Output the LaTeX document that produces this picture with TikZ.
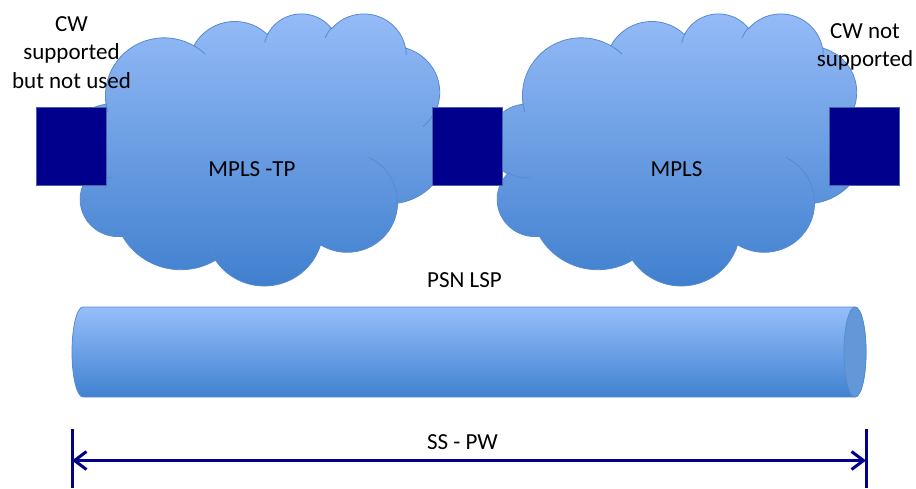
\documentclass[tikz,border=0pt]{standalone}
\usepackage{fontspec}
\setmainfont{Carlito}
\usepackage{xcolor}
\usetikzlibrary{arrows.meta,positioning}

\definecolor{cloudtop}{RGB}{150,188,248}
\definecolor{cloudbot}{RGB}{62,126,205}
\definecolor{cloudedge}{RGB}{88,138,208}
\definecolor{tubetop}{RGB}{150,190,250}
\definecolor{tubebot}{RGB}{64,130,208}
\definecolor{tubeface}{RGB}{98,152,216}
\definecolor{pwnavy}{RGB}{0,0,140}
\definecolor{boxedge}{RGB}{70,100,170}

\tikzset{
  cloudbody/.style={top color=cloudtop, bottom color=cloudbot, draw=cloudedge, line width=0.8pt},
  cloudfold/.style={draw=cloudedge, line width=0.8pt},
  pebox/.style={fill=pwnavy, draw=boxedge, line width=0.8pt, minimum width=70pt, minimum height=78pt, inner sep=0pt},
  tag/.style={font=\fontsize{23}{28.3}\selectfont, inner sep=0pt, align=center},
  tubebody/.style={top color=tubetop, bottom color=tubebot, draw=cloudedge, line width=0.8pt},
  tubecap/.style={fill=tubeface, draw=cloudedge, line width=0.8pt},
  dimbar/.style={draw=pwnavy, line width=3pt},
  dimarrow/.style={draw=pwnavy, line width=3pt,
    arrows={Straight Barb[length=12pt,width=18pt]-Straight Barb[length=12pt,width=18pt]}}
}

% cloud outline, frame of 43.2 x 43.2 units
\newcommand{\netcloud}[1]{%
  \begin{scope}[shift={#1}, x=8.7037pt, y=6.2963pt]
    \draw[cloudbody] (3.9,28.83)
      arc[start angle=-172.26, end angle=-300.37, x radius=6.753, y radius=9.19]
      arc[start angle=152.02, end angle=45.45, x radius=5.333, y radius=7.267]
      arc[start angle=153.48, end angle=37.33, x radius=4.365, y radius=5.945]
      arc[start angle=139.73, end angle=10.22, x radius=4.857, y radius=6.595]
      arc[start angle=74.77, end angle=-23.21, x radius=5.333, y radius=7.273]
      arc[start angle=37.54, end angle=-81.86, x radius=6.775, y radius=9.22]
      arc[start angle=-0.46, end angle=-121.98, x radius=5.785, y radius=7.867]
      arc[start angle=-16.84, end angle=-146.24, x radius=6.752, y radius=9.215]
      arc[start angle=-58.98, end angle=-150.19, x radius=7.72, y radius=10.543]
      arc[start angle=-83.31, end angle=-223.12, x radius=4.36, y radius=5.918]
      arc[start angle=-120.34, end angle=-264.11, x radius=4.345, y radius=5.945]
      -- cycle;
    % inner folds
    \draw[cloudfold]
      (4.693,17.023) arc[start angle=-85.54, end angle=-120.34, x radius=4.345, y radius=5.945]
      (6.928,8.301) arc[start angle=-68.23, end angle=-83.31, x radius=4.36, y radius=5.918]
      (16.478,4.11) arc[start angle=-146.24, end angle=-158.47, x radius=6.752, y radius=9.215]
      (28.827,8.449) arc[start angle=-4.73, end angle=-16.84, x radius=6.752, y radius=9.215]
      (34.129,20.246) arc[start angle=64.03, end angle=-0.46, x radius=5.785, y radius=7.867]
      (41.798,27.846) arc[start angle=-23.21, end angle=-49.64, x radius=5.333, y radius=7.273]
      (38.324,37.774) arc[start angle=10.22, end angle=-0.82, x radius=4.857, y radius=6.595]
      (29.078,39.248) arc[start angle=156.29, end angle=139.73, x radius=4.857, y radius=6.595]
      (22.141,38.48) arc[start angle=167.72, end angle=150.8, x radius=4.365, y radius=5.945]
      (14.0,38.008) arc[start angle=59.63, end angle=45.74, x radius=6.753, y radius=9.19]
      (4.127,27.411) arc[start angle=-163.19, end angle=-172.25, x radius=6.753, y radius=9.19];
  \end{scope}}

\begin{document}
\begin{tikzpicture}[x=1pt, y=1pt]
    \useasboundingbox (0,0) rectangle (916,488);

    % Clouds
    \netcloud{(72,203)}
    \netcloud{(489,203)}
    \node[tag] (mplstp) at (252,319) {MPLS -TP};
    \node[tag] (mpls) at (676.5,319) {MPLS};

    % PE boxes
    \node[pebox] (pe1) at (71,342) {};
    \node[pebox] (pe2) at (467.5,342) {};
    \node[pebox] (pe3) at (864.5,342) {};

    % CW labels (base = last line)
    \node[tag, anchor=base] (cwleft) at (71.5,399.7) {CW\\supported\\but not used};
    \node[tag, anchor=base] (cwright) at (865,421.3) {CW not\\supported};

    % PSN LSP tube
    \node[tag] (psnlsp) at (464.5,208) {PSN LSP};
    \draw[tubebody] (83,181) -- (855,181)
        arc[start angle=90, end angle=-90, x radius=11, y radius=45] -- (83,91)
        arc[start angle=270, end angle=90, x radius=11, y radius=45] -- cycle;
    \draw[tubecap] (855,136) ellipse[x radius=11, y radius=45];

    % SS-PW span
    \coordinate (barltop) at (72,59);
    \coordinate (barlbot) at (72,0);
    \coordinate (barrtop) at (866,59);
    \coordinate (barrbot) at (866,0);
    \coordinate (spanl) at (72,27.5);
    \coordinate (spanr) at (866,27.5);
    \draw[dimbar] (barltop) -- (barlbot);
    \draw[dimbar] (barrtop) -- (barrbot);
    \draw[dimarrow] (spanl) -- (spanr);
    \node[tag] (sspw) at (462.5,46) {SS - PW};
\end{tikzpicture}
\end{document}
